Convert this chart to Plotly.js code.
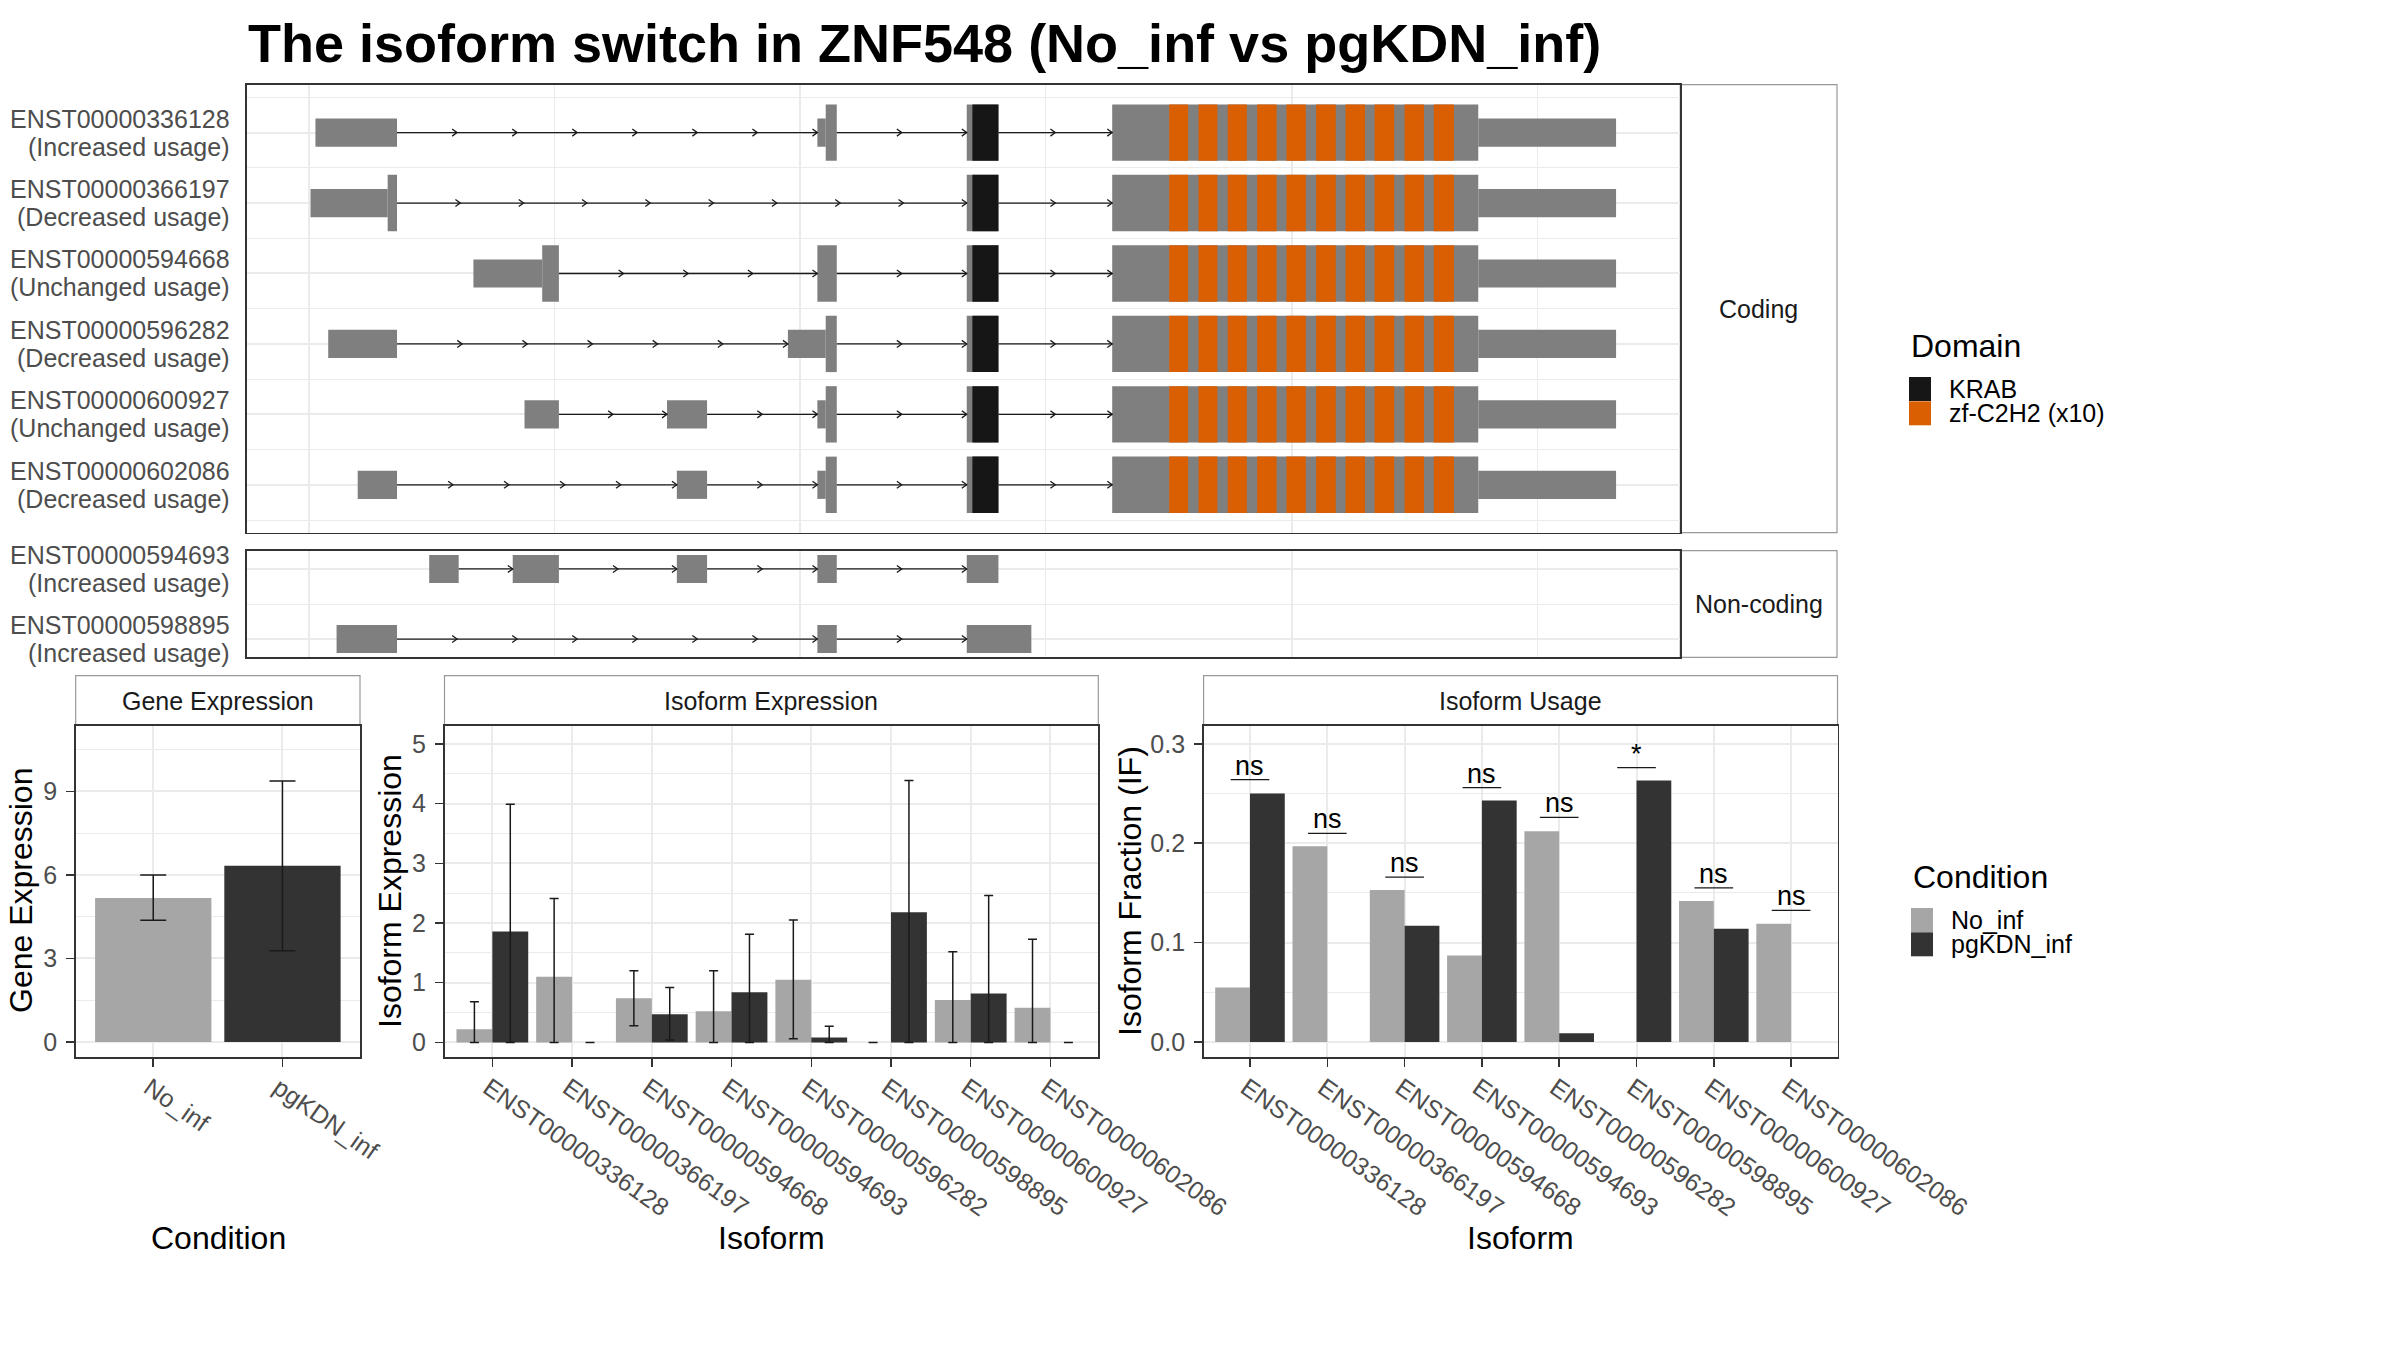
<!DOCTYPE html>
<html>
<head>
<meta charset="utf-8">
<script src="https://cdn.plot.ly/plotly-3.0.1.min.js"></script>
<style>html,body{margin:0;padding:0;background:#fff}#plot{width:2400px;height:1350px}</style>
</head>
<body>
<div id="plot"></div>
<script>
// ================= DATA =================
// Transcript structures (rescaled genomic coordinates)
const codingIds = ['ENST00000336128','ENST00000366197','ENST00000594668','ENST00000596282','ENST00000600927','ENST00000602086'];
const codingUsage = ['Increased usage','Decreased usage','Unchanged usage','Decreased usage','Unchanged usage','Decreased usage'];
const codingExonStarts = [
  [27, 2070, 2678, 3270],
  [7, 2678, 3270],
  [670, 2070, 2678, 3270],
  [79, 1950, 2678, 3270],
  [878, 1458, 2070, 2678, 3270],
  [199, 1498, 2070, 2678, 3270]
];
const codingExonEnds = [
  [359, 2149, 2807, 5321],
  [359, 2807, 5321],
  [1018, 2149, 2807, 5321],
  [359, 2149, 2807, 5321],
  [1018, 1621, 2149, 2807, 5321],
  [359, 1621, 2149, 2807, 5321]
];
const cdsStarts = [2104, 321, 950, 2104, 2104, 2104];
const cdsEnds   = [4760, 4760, 4760, 4760, 4760, 4760];

const nonCodingIds = ['ENST00000594693','ENST00000598895'];
const nonCodingUsage = ['Increased usage','Increased usage'];
const nonCodingExonStarts = [
  [490, 830, 1498, 2070, 2678],
  [113, 2070, 2678]
];
const nonCodingExonEnds = [
  [610, 1018, 1621, 2149, 2807],
  [359, 2149, 2941]
];

const domainNames = ['KRAB', 'zf-C2H2 (x10)'];
const domainColors = ['#161616', '#D95F02'];
const krabStart = [2701];
const krabEnd = [2807];
const zfStarts = [3502, 3621, 3740, 3860, 3979, 4100, 4220, 4338, 4460, 4579];
const zfEnds   = [3579, 3698, 3818, 3939, 4058, 4180, 4299, 4418, 4539, 4661];

// Expression data
const conditions = ['No_inf', 'pgKDN_inf'];
const conditionColors = ['#A6A6A6', '#333333'];
const geneMean = [5.17, 6.33];
const geneLow  = [4.37, 3.28];
const geneHigh = [6.00, 9.38];

const isoforms = ['ENST00000336128','ENST00000366197','ENST00000594668','ENST00000594693','ENST00000596282','ENST00000598895','ENST00000600927','ENST00000602086'];
const isoExpNo     = [0.22, 1.10, 0.74, 0.52, 1.05, 0.00, 0.71, 0.58];
const isoExpNoLow  = [0.00, 0.00, 0.28, 0.00, 0.06, 0.00, 0.00, 0.00];
const isoExpNoHigh = [0.68, 2.41, 1.20, 1.20, 2.05, 0.00, 1.52, 1.73];
const isoExpPg     = [1.86, 0.00, 0.47, 0.84, 0.08, 2.18, 0.82, 0.00];
const isoExpPgLow  = [0.00, 0.00, 0.04, 0.00, 0.00, 0.00, 0.00, 0.00];
const isoExpPgHigh = [3.99, 0.00, 0.92, 1.81, 0.27, 4.39, 2.46, 0.00];

const ifNo = [0.055, 0.197, 0.153, 0.087, 0.212, 0.000, 0.142, 0.119];
const ifPg = [0.250, 0.000, 0.117, 0.243, 0.009, 0.263, 0.114, 0.000];
const sigLabel = ['ns','ns','ns','ns','ns','*','ns','ns'];
const sigY     = [0.264, 0.210, 0.166, 0.256, 0.226, 0.276, 0.155, 0.1325];

// ================= STYLE / HELPERS =================
const FONT = 'Liberation Sans, Arial, Helvetica, sans-serif';
const W = 2400, H = 1350;
const px = v => v / W;
const py = v => 1 - v / H;
const EXON = '#7F7F7F';
const GRID = '#EBEBEB';
const BORDER = '#333333';
const TICKTXT = '#4D4D4D';

const traces = [];
const shapes = [];
const annotations = [];

function hbar(seg, width, color, xa, ya) {
  return {
    type: 'bar', orientation: 'h', y: seg.y, x: seg.len, base: seg.base,
    width: width, offset: -width / 2,
    marker: {color: color, line: {width: 0}},
    xaxis: xa, yaxis: ya, hoverinfo: 'skip', showlegend: false
  };
}

function transcriptTraces(starts, ends, cS, cE, xa, ya, domains) {
  const utr = {y: [], base: [], len: []};
  const cds = {y: [], base: [], len: []};
  const add = (seg, row, a, b) => { if (b > a) { seg.y.push(row); seg.base.push(a); seg.len.push(b - a); } };
  const lineX = [], lineY = [], chX = [], chY = [];
  for (let r = 0; r < starts.length; r++) {
    const row = r + 1;
    for (let k = 0; k < starts[r].length; k++) {
      const s = starts[r][k], e = ends[r][k];
      if (cS) {
        add(utr, row, s, Math.min(e, cS[r]));
        add(cds, row, Math.max(s, cS[r]), Math.min(e, cE[r]));
        add(utr, row, Math.max(s, cE[r]), e);
      } else {
        add(utr, row, s, e);
      }
      if (k < starts[r].length - 1) {
        const a = e, b = starts[r][k + 1];
        lineX.push(a, b, null); lineY.push(row, row, null);
        const n = Math.max(1, Math.ceil((b - a) / 275));
        for (let j = 1; j <= n; j++) {
          const xt = a + j * (b - a) / n;
          chX.push(xt - 20, xt, xt - 20, null);
          chY.push(row - 0.05, row, row + 0.05, null);
        }
      }
    }
  }
  traces.push({type: 'scatter', mode: 'lines', x: lineX, y: lineY, line: {color: '#1a1a1a', width: 1.3},
    xaxis: xa, yaxis: ya, hoverinfo: 'skip', showlegend: false});
  traces.push({type: 'scatter', mode: 'lines', x: chX, y: chY, line: {color: '#1a1a1a', width: 1.3},
    xaxis: xa, yaxis: ya, hoverinfo: 'skip', showlegend: false});
  traces.push(hbar(utr, 0.4, EXON, xa, ya));
  if (cS) traces.push(hbar(cds, 0.8, EXON, xa, ya));
  if (domains) {
    const krab = {y: [], base: [], len: []};
    const zf = {y: [], base: [], len: []};
    for (let r = 0; r < starts.length; r++) {
      for (let d = 0; d < krabStart.length; d++) add(krab, r + 1, krabStart[d], krabEnd[d]);
      for (let d = 0; d < zfStarts.length; d++) add(zf, r + 1, zfStarts[d], zfEnds[d]);
    }
    traces.push(hbar(krab, 0.8, domainColors[0], xa, ya));
    traces.push(hbar(zf, 0.8, domainColors[1], xa, ya));
  }
}

transcriptTraces(codingExonStarts, codingExonEnds, cdsStarts, cdsEnds, 'x', 'y', true);
transcriptTraces(nonCodingExonStarts, nonCodingExonEnds, null, null, 'x2', 'y2', false);

// Row labels
function rowLabels(ids, usage, yref) {
  ids.forEach((id, i) => {
    annotations.push({xref: 'paper', yref: yref, x: px(232), y: i + 1, xanchor: 'right', yanchor: 'middle',
      yshift: 14, text: id, showarrow: false, font: {family: FONT, size: 25, color: TICKTXT}});
    annotations.push({xref: 'paper', yref: yref, x: px(232), y: i + 1, xanchor: 'right', yanchor: 'middle',
      yshift: -14, text: '(' + usage[i] + ')', showarrow: false, font: {family: FONT, size: 25, color: TICKTXT}});
  });
}
rowLabels(codingIds, codingUsage, 'y');
rowLabels(nonCodingIds, nonCodingUsage, 'y2');

// Gene expression bars
conditions.forEach((c, i) => {
  traces.push({type: 'bar', x: [i], y: [geneMean[i]], width: 0.9, offset: -0.45,
    marker: {color: conditionColors[i], line: {width: 0}},
    error_y: {type: 'data', symmetric: false, array: [geneHigh[i] - geneMean[i]], arrayminus: [geneMean[i] - geneLow[i]],
      color: '#1a1a1a', thickness: 1.5, width: 13},
    xaxis: 'x3', yaxis: 'y3', hoverinfo: 'skip', showlegend: false});
});

// Isoform expression bars
const idx = isoforms.map((_, i) => i);
const isoSets = [[isoExpNo, isoExpNoLow, isoExpNoHigh], [isoExpPg, isoExpPgLow, isoExpPgHigh]];
isoSets.forEach((set, c) => {
  const [m, lo, hi] = set;
  traces.push({type: 'bar', x: idx, y: m, width: 0.45, offset: c === 0 ? -0.45 : 0,
    marker: {color: conditionColors[c], line: {width: 0}},
    error_y: {type: 'data', symmetric: false, array: hi.map((v, i) => v - m[i]), arrayminus: m.map((v, i) => v - lo[i]),
      color: '#1a1a1a', thickness: 1.5, width: 4.5},
    xaxis: 'x4', yaxis: 'y4', hoverinfo: 'skip', showlegend: false});
});

// Isoform usage bars
[ifNo, ifPg].forEach((vals, c) => {
  traces.push({type: 'bar', x: idx, y: vals, width: 0.45, offset: c === 0 ? -0.45 : 0,
    marker: {color: conditionColors[c], line: {width: 0}},
    xaxis: 'x5', yaxis: 'y5', hoverinfo: 'skip', showlegend: false});
});
// significance lines + labels
const sx = [], sy = [];
idx.forEach(i => { sx.push(i - 0.25, i + 0.25, null); sy.push(sigY[i], sigY[i], null); });
traces.push({type: 'scatter', mode: 'lines', x: sx, y: sy, line: {color: '#1a1a1a', width: 1.3},
  xaxis: 'x5', yaxis: 'y5', hoverinfo: 'skip', showlegend: false});
idx.forEach(i => {
  annotations.push({xref: 'x5', yref: 'y5', x: i, y: sigY[i], xanchor: 'center', yanchor: 'bottom', yshift: -3,
    text: sigLabel[i], showarrow: false, font: {family: FONT, size: 27, color: '#000'}});
});

// ================= AXES =================
const topX = (anchor) => ({
  domain: [px(246.9), px(1680.2)], range: [-252, 5582], anchor: anchor,
  showticklabels: false, ticks: '', zeroline: false, automargin: false,
  tickmode: 'linear', tick0: 0, dtick: 2000, showgrid: true, gridcolor: GRID, gridwidth: 2,
  minor: {tickmode: 'linear', tick0: 0, dtick: 1000, showgrid: true, gridcolor: GRID, gridwidth: 1},
  showline: true, mirror: true, linecolor: BORDER, linewidth: 1.5
});
const topY = (dom, rng, n, anchor) => ({
  domain: dom, range: rng, anchor: anchor, showticklabels: false, ticks: '', zeroline: false, automargin: false,
  tickmode: 'array', tickvals: Array.from({length: n}, (_, i) => i + 1),
  showgrid: true, gridcolor: GRID, gridwidth: 2,
  minor: {tickmode: 'array', tickvals: Array.from({length: n + 1}, (_, i) => i + 0.5), showgrid: true, gridcolor: GRID, gridwidth: 1},
  showline: true, mirror: true, linecolor: BORDER, linewidth: 1.5
});
const botX = (dom, rng, labels, anchor) => ({
  domain: dom, range: rng, anchor: anchor, automargin: false, zeroline: false,
  tickmode: 'array', tickvals: labels.map((_, i) => i), ticktext: labels, tickangle: 35,
  ticks: 'outside', ticklen: 8, tickwidth: 1.5, tickcolor: BORDER,
  ticklabelstandoff: -3, ticklabelshift: -4,
  tickfont: {family: FONT, size: 25, color: TICKTXT},
  showgrid: true, gridcolor: GRID, gridwidth: 2,
  showline: true, mirror: true, linecolor: BORDER, linewidth: 1.5
});
const botY = (rng, tv, tt, minorv, anchor) => ({
  domain: [py(1057), py(725.5)], range: rng, anchor: anchor, automargin: false, zeroline: false,
  tickmode: 'array', tickvals: tv, ticktext: tt,
  ticks: 'outside', ticklen: 8, tickwidth: 1.5, tickcolor: BORDER, ticklabelstandoff: 4,
  tickfont: {family: FONT, size: 25, color: TICKTXT},
  showgrid: true, gridcolor: GRID, gridwidth: 2,
  minor: {tickmode: 'array', tickvals: minorv, showgrid: true, gridcolor: GRID, gridwidth: 1, ticks: ''},
  showline: true, mirror: true, linecolor: BORDER, linewidth: 1.5
});

// ================= STRIPS, TITLES, LEGENDS =================
function strip(x0, x1, y0, y1, text) {
  shapes.push({type: 'rect', xref: 'paper', yref: 'paper', x0: px(x0), x1: px(x1), y0: py(y1), y1: py(y0),
    fillcolor: '#FFFFFF', line: {color: '#999999', width: 1.2}, layer: 'below'});
  annotations.push({xref: 'paper', yref: 'paper', x: px((x0 + x1) / 2), y: py((y0 + y1) / 2), xanchor: 'center', yanchor: 'middle',
    text: text, showarrow: false, font: {family: FONT, size: 25, color: '#1A1A1A'}});
}
strip(1680.2, 1837, 84.7, 532.7, 'Coding');
strip(1680.2, 1837, 550.7, 657.3, 'Non-coding');
strip(75.7, 360, 675.7, 725.5, 'Gene Expression');
strip(444.5, 1098.3, 675.7, 725.5, 'Isoform Expression');
strip(1203.6, 1837.5, 675.7, 725.5, 'Isoform Usage');

function axTitle(x, y, text, angle) {
  annotations.push({xref: 'paper', yref: 'paper', x: px(x), y: py(y), xanchor: 'center', yanchor: 'middle',
    text: text, textangle: angle, showarrow: false, font: {family: FONT, size: 32, color: '#000'}});
}
axTitle(21, 891, 'Gene Expression', -90);
axTitle(390, 891, 'Isoform Expression', -90);
axTitle(1130, 891, 'Isoform Fraction (IF)', -90);
axTitle(218, 1238, 'Condition', 0);
axTitle(771, 1238, 'Isoform', 0);
axTitle(1520.5, 1238, 'Isoform', 0);

function legend(x, yTitle, title, names, colors, keyTop, textX) {
  annotations.push({xref: 'paper', yref: 'paper', x: px(x), y: py(yTitle), xanchor: 'left', yanchor: 'middle',
    text: title, showarrow: false, font: {family: FONT, size: 32, color: '#000'}});
  names.forEach((n, i) => {
    const t = keyTop + i * 24.3;
    shapes.push({type: 'rect', xref: 'paper', yref: 'paper', x0: px(x), x1: px(x + 22), y0: py(t + 24), y1: py(t),
      fillcolor: colors[i], line: {width: 0}});
    annotations.push({xref: 'paper', yref: 'paper', x: px(textX), y: py(t + 12), xanchor: 'left', yanchor: 'middle',
      text: n, showarrow: false, font: {family: FONT, size: 25, color: '#000'}});
  });
}
legend(1909, 346, 'Domain', domainNames, domainColors, 377, 1947);
legend(1911, 877, 'Condition', conditions, conditionColors, 908, 1949);

const layout = {
  width: W, height: H, margin: {l: 0, r: 0, t: 0, b: 0, pad: 0},
  paper_bgcolor: '#FFFFFF', plot_bgcolor: 'rgba(0,0,0,0)',
  barmode: 'overlay', showlegend: false,
  font: {family: FONT, color: '#000'},
  title: {text: '<b>The isoform switch in ZNF548 (No_inf vs pgKDN_inf)</b>', xref: 'paper', yref: 'container',
    x: px(248), xanchor: 'left', y: py(43), yanchor: 'middle', font: {family: FONT, size: 54, color: '#000'}},
  xaxis: topX('y'),
  yaxis: topY([py(532.7), py(84.7)], [6.68, 0.32], 6, 'x'),
  xaxis2: topX('y2'),
  yaxis2: topY([py(657.3), py(550.7)], [2.26, 0.74], 2, 'x2'),
  xaxis3: botX([px(75.7), px(360)], [-0.6, 1.6], conditions, 'y3'),
  yaxis3: botY([-0.54, 11.37], [0, 3, 6, 9], ['0', '3', '6', '9'], [1.5, 4.5, 7.5, 10.5], 'x3'),
  xaxis4: botX([px(444.5), px(1098.3)], [-0.6, 7.6], isoforms, 'y4'),
  yaxis4: botY([-0.245, 5.31], [0, 1, 2, 3, 4, 5], ['0', '1', '2', '3', '4', '5'], [0.5, 1.5, 2.5, 3.5, 4.5], 'x4'),
  xaxis5: botX([px(1203.6), px(1837.5)], [-0.6, 7.6], isoforms, 'y5'),
  yaxis5: botY([-0.015, 0.3184], [0, 0.1, 0.2, 0.3], ['0.0', '0.1', '0.2', '0.3'], [0.05, 0.15, 0.25], 'x5'),
  shapes: shapes,
  annotations: annotations
};

Plotly.newPlot('plot', traces, layout, {displayModeBar: false, staticPlot: true});
</script>
</body>
</html>
